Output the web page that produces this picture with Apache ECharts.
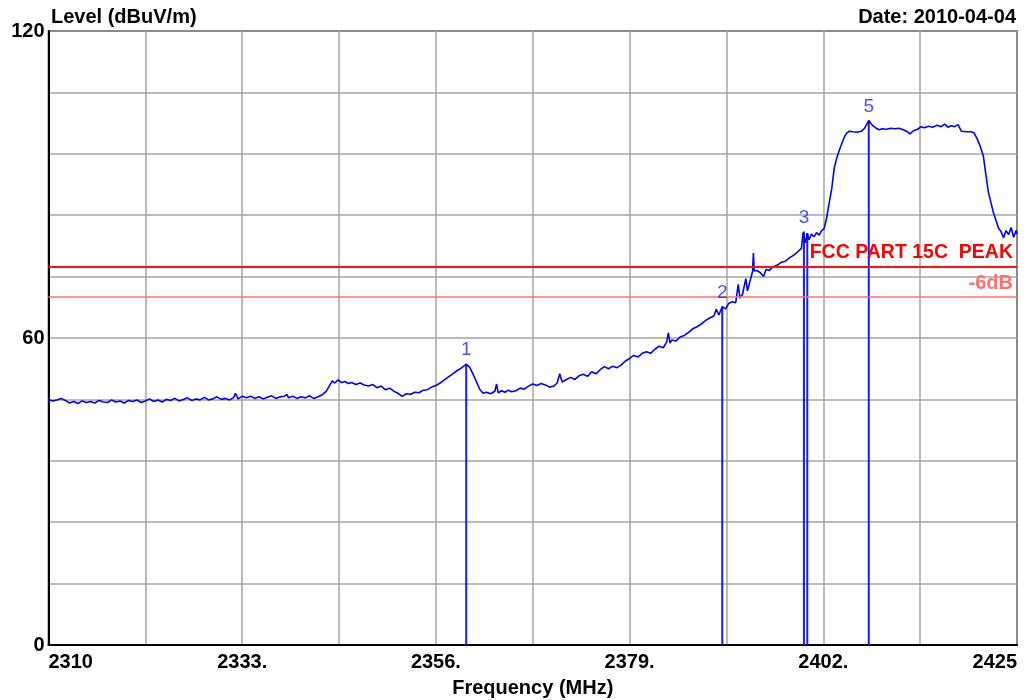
<!DOCTYPE html>
<html>
<head>
<meta charset="utf-8">
<title>Level (dBuV/m)</title>
<script src="https://cdn.jsdelivr.net/npm/echarts@6/dist/echarts.min.js"></script>
<style>
  html, body { margin: 0; padding: 0; background: #fff; }
  #chart { width: 1036px; height: 700px; }
</style>
</head>
<body>
<div id="chart"></div>
<script>
// Measured spectrum trace: [frequency MHz, level dBuV/m]
const trace = [
  [2310.0,48.0],[2310.5,47.7],[2311.0,47.9],[2311.5,48.2],[2312.0,47.8],[2312.5,47.3],[2313.0,47.6],[2313.5,47.2],
  [2314.0,47.7],[2314.5,47.4],[2315.0,47.6],[2315.5,47.3],[2316.0,47.8],[2316.5,47.5],[2317.0,47.4],[2317.5,47.9],
  [2318.0,47.5],[2318.5,47.7],[2319.0,47.3],[2319.5,47.8],[2320.0,47.6],[2320.5,47.9],[2321.0,47.4],[2321.5,47.7],
  [2322.0,48.1],[2322.5,47.6],[2323.0,47.9],[2323.5,47.5],[2324.0,48.0],[2324.5,47.8],[2325.0,48.2],[2325.5,47.7],
  [2326.0,48.0],[2326.5,48.3],[2327.0,47.8],[2327.5,48.1],[2328.0,47.9],[2328.5,48.4],[2329.0,47.9],[2329.5,48.1],
  [2330.0,48.5],[2330.5,48.0],[2331.0,48.2],[2331.5,47.9],[2332.0,48.4],[2332.2,49.2],[2332.5,48.1],[2333.0,48.6],
  [2333.5,48.3],[2334.0,48.6],[2334.5,48.2],[2335.0,48.5],[2335.5,48.1],[2336.0,48.4],[2336.5,48.7],[2337.0,48.2],
  [2337.5,48.5],[2338.0,48.6],[2338.3,49.0],[2338.5,48.3],[2339.0,48.6],[2339.5,48.2],[2340.0,48.5],[2340.5,48.3],
  [2341.0,48.7],[2341.5,48.2],[2342.0,48.5],[2342.5,48.9],[2343.0,49.6],[2343.4,50.8],[2343.7,51.6],[2344.0,51.2],
  [2344.4,51.8],[2344.8,51.3],[2345.2,51.5],[2345.6,51.1],[2346.0,51.3],[2346.5,50.9],[2347.0,51.2],[2347.5,50.8],
  [2348.0,50.6],[2348.5,50.9],[2349.0,50.3],[2349.5,50.6],[2350.0,49.9],[2350.5,50.2],[2351.0,49.6],[2351.5,49.2],
  [2352.0,48.6],[2352.5,49.1],[2353.0,49.0],[2353.5,49.4],[2354.0,49.3],[2354.5,49.8],[2355.0,49.9],[2355.5,50.4],
  [2356.0,50.7],[2356.5,51.2],[2357.0,51.8],[2357.5,52.4],[2358.0,53.0],[2358.5,53.6],[2359.0,54.1],[2359.6,54.9],
  [2360.0,54.3],[2360.4,53.0],[2360.8,51.5],[2361.2,50.0],[2361.6,49.2],[2362.0,49.4],[2362.5,49.1],[2363.0,49.6],
  [2363.2,51.0],[2363.4,49.3],[2363.8,49.7],[2364.2,49.4],[2364.6,49.8],[2365.0,49.5],[2365.5,49.7],[2366.0,50.2],
  [2366.5,50.0],[2367.0,50.6],[2367.5,51.0],[2368.0,50.7],[2368.5,51.1],[2369.0,50.8],[2369.5,50.4],[2370.0,50.6],
  [2370.4,51.2],[2370.7,53.0],[2371.0,51.4],[2371.5,51.9],[2372.0,52.3],[2372.5,51.9],[2373.0,52.6],[2373.5,52.9],
  [2374.0,52.5],[2374.5,53.4],[2375.0,53.0],[2375.5,53.8],[2376.0,54.4],[2376.5,54.0],[2377.0,54.5],[2377.5,54.2],
  [2378.0,54.7],[2378.5,55.5],[2379.0,56.0],[2379.5,56.6],[2380.0,56.3],[2380.5,57.0],[2381.0,57.3],[2381.5,57.0],
  [2382.0,57.8],[2382.5,58.4],[2383.0,58.1],[2383.4,59.2],[2383.6,61.0],[2383.8,59.0],[2384.0,59.6],[2384.5,59.4],
  [2385.0,60.2],[2385.5,60.5],[2386.0,61.1],[2386.5,61.8],[2387.0,62.2],[2387.5,62.7],[2388.0,63.4],[2388.5,63.9],
  [2389.0,64.3],[2389.3,65.6],[2389.6,64.5],[2390.0,66.1],[2390.4,65.7],[2390.8,66.8],[2391.2,67.1],[2391.6,66.9],
  [2391.9,70.5],[2392.1,67.8],[2392.4,68.5],[2392.8,71.6],[2393.0,69.2],[2393.2,70.5],[2393.6,73.0],[2393.7,76.6],
  [2393.8,73.1],[2394.1,73.2],[2394.5,72.8],[2394.9,72.0],[2395.2,73.4],[2395.6,73.2],[2396.0,73.9],[2396.5,74.2],
  [2397.0,74.8],[2397.5,75.0],[2398.0,75.7],[2398.5,76.2],[2399.0,76.9],[2399.4,77.5],[2399.6,80.6],[2399.7,80.8],
  [2399.9,78.6],[2400.1,80.5],[2400.3,79.2],[2400.6,80.3],[2400.9,79.8],[2401.2,80.6],[2401.5,80.1],[2401.8,81.0],
  [2402.1,81.4],[2402.4,83.5],[2402.7,86.4],[2403.0,89.2],[2403.3,93.2],[2403.6,95.2],[2403.9,96.7],[2404.2,98.0],
  [2404.5,99.3],[2404.8,100.1],[2405.1,100.4],[2405.5,100.3],[2406.0,100.2],[2406.5,100.4],[2406.9,101.0],[2407.4,102.5],
  [2407.8,101.6],[2408.2,101.1],[2408.6,100.7],[2409.0,100.9],[2409.5,100.8],[2410.0,101.0],[2410.5,100.9],[2411.0,101.0],
  [2411.5,100.7],[2412.0,100.3],[2412.3,99.9],[2412.7,100.5],[2413.2,100.8],[2413.6,101.3],[2414.0,101.1],[2414.5,101.4],
  [2415.0,101.2],[2415.5,101.6],[2416.0,101.3],[2416.4,101.8],[2416.8,101.2],[2417.2,101.5],[2417.6,101.3],[2418.0,101.7],
  [2418.4,100.4],[2419.0,100.3],[2419.5,100.3],[2419.9,100.1],[2420.3,98.8],[2420.6,97.6],[2421.0,95.6],[2421.3,92.0],
  [2421.6,88.5],[2421.9,86.5],[2422.2,84.5],[2422.5,83.0],[2422.8,81.5],[2423.1,80.8],[2423.4,79.6],[2423.7,81.0],
  [2424.0,80.2],[2424.3,81.6],[2424.6,79.7],[2424.9,81.0],[2425.0,80.3]
];

// Peak markers
const markerFreq   = [2359.6, 2390.0, 2399.7, 2400.1, 2407.4];
const markerLevel  = [54.9, 66.1, 80.8, 80.5, 102.5];
const markerLabels = ['1', '2', '3', '', '5'];

// Limit lines
const limitNames  = ['FCC PART 15C  PEAK', '-6dB'];
const limitLevels = [74, 68];

// Axis ticks
const freqGrid    = [2310, 2321.5, 2333, 2344.5, 2356, 2367.5, 2379, 2390.5, 2402, 2413.5, 2425];
const freqTicks   = [2310, 2333, 2356, 2379, 2402, 2425];
const freqLabels  = ['2310', '2333.', '2356.', '2379.', '2402.', '2425'];
const levelTicks  = [0, 60, 120];

const FONT = '"Liberation Sans", Arial, sans-serif';
const chart = echarts.init(document.getElementById('chart'), null, { renderer: 'canvas' });

// Each marker is a vertical stem from 0 up to its level, numbered at the top
const markerSeries = markerFreq.map((f, i) => ({
  type: 'line',
  name: 'marker' + (i + 1),
  data: [[f, 0], [f, markerLevel[i]]],
  symbol: 'none',
  lineStyle: { color: '#1a1aff', width: 2 },
  z: 3,
  silent: true
}));

const markerNumbers = {
  type: 'scatter',
  name: 'markerNumbers',
  data: markerFreq.map((f, i) => ({ value: [f, markerLevel[i]], name: markerLabels[i] })),
  symbol: 'circle',
  symbolSize: 1,
  itemStyle: { color: 'rgba(0,0,0,0)' },
  label: {
    show: true,
    position: 'top',
    distance: 4,
    formatter: p => p.name,
    color: '#1f1fff',
    fontFamily: FONT,
    fontSize: 19
  },
  z: 6,
  silent: true
};

chart.setOption({
  animation: false,
  backgroundColor: '#fff',
  title: [
    {
      text: 'Level (dBuV/m)', left: 46, top: 2,
      textStyle: { fontFamily: FONT, fontSize: 20, fontWeight: 'bold', color: '#000' }
    },
    {
      text: 'Date: 2010-04-04', right: 15, top: 2,
      textStyle: { fontFamily: FONT, fontSize: 20, fontWeight: 'bold', color: '#000' }
    }
  ],
  grid: {
    left: 48.5, right: 19, top: 31, bottom: 55,
    containLabel: false,
    outerBoundsMode: 'none',
    show: true, borderColor: '#000', borderWidth: 1.5
  },
  xAxis: {
    type: 'value',
    min: 2310, max: 2425,
    name: 'Frequency (MHz)',
    nameLocation: 'middle',
    nameGap: 33,
    nameTextStyle: { fontFamily: FONT, fontSize: 20, fontWeight: 'bold', color: '#000' },
    axisLine: { show: true, lineStyle: { color: '#000', width: 2 } },
    axisTick: { show: false, customValues: freqGrid },
    splitLine: { show: true, lineStyle: { color: '#a4a4a4', width: 1.5 } },
    axisLabel: {
      customValues: freqTicks,
      formatter: v => freqLabels[freqTicks.indexOf(v)] ?? '',
      alignMinLabel: 'left',
      alignMaxLabel: 'right',
      margin: 7,
      fontFamily: FONT, fontSize: 20, fontWeight: 'bold', color: '#000'
    }
  },
  yAxis: {
    type: 'value',
    min: 0, max: 120, interval: 12,
    axisLine: { show: true, lineStyle: { color: '#000', width: 2 } },
    axisTick: { show: false },
    splitLine: { show: true, lineStyle: { color: '#a4a4a4', width: 1.5 } },
    axisLabel: {
      customValues: levelTicks,
      margin: 4,
      fontFamily: FONT, fontSize: 20, fontWeight: 'bold', color: '#000'
    }
  },
  series: [
    {
      type: 'line',
      name: 'Level',
      data: trace,
      symbol: 'none',
      lineStyle: { color: '#0000ff', width: 1.6 },
      z: 4,
      silent: true,
      markLine: {
        symbol: 'none',
        silent: true,
        data: [
          {
            yAxis: limitLevels[0],
            lineStyle: { color: '#ff1010', width: 2, type: 'solid' },
            label: {
              show: true, position: 'insideEndTop', formatter: limitNames[0], distance: 4,
              color: '#ff0000', fontFamily: FONT, fontSize: 19.5, fontWeight: 'bold'
            }
          },
          {
            yAxis: limitLevels[1],
            lineStyle: { color: '#ff7070', width: 1.5, type: 'solid' },
            label: {
              show: true, position: 'insideEndTop', formatter: limitNames[1], distance: 4,
              color: '#ff7070', fontFamily: FONT, fontSize: 20, fontWeight: 'bold'
            }
          }
        ]
      }
    },
    ...markerSeries,
    markerNumbers
  ]
});
</script>
</body>
</html>
